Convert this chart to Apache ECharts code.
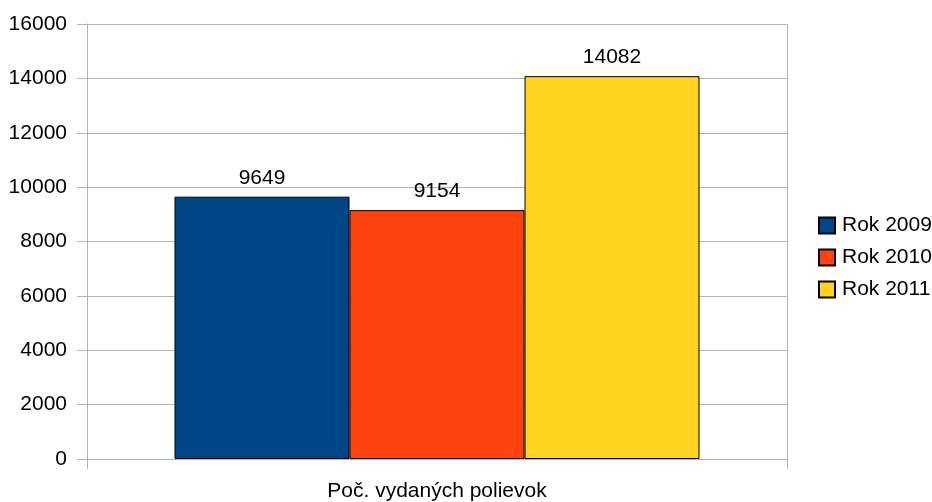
<!DOCTYPE html>
<html>
<head>
<meta charset="utf-8">
<script src="https://cdn.jsdelivr.net/npm/echarts@6/dist/echarts.min.js"></script>
<style>html,body{margin:0;padding:0;background:#fff}#c{width:932px;height:502px}</style>
</head>
<body>
<div id="c"></div>
<script>
const categories = ['Poč. vydaných polievok'];
const seriesNames = ['Rok 2009', 'Rok 2010', 'Rok 2011'];
const values2009 = [9649];
const values2010 = [9154];
const values2011 = [14082];
const colors = ['#004586', '#ff420e', '#ffd320'];

const chart = echarts.init(document.getElementById('c'), null, {renderer: 'canvas'});
const font = 'Liberation Sans, Arial, sans-serif';
const allValues = [values2009, values2010, values2011];
chart.setOption({
  animation: false,
  textStyle: {fontFamily: font},
  grid: {left: 87, right: 145, top: 24, bottom: 42, containLabel: false},
  legend: {
    orient: 'vertical', left: 818, top: 215, padding: 0,
    itemWidth: 16, itemHeight: 16, itemGap: 11,
    icon: 'rect',
    textStyle: {fontSize: 21, color: '#000', fontFamily: font, padding: [0, 0, 0, 2]},
    data: seriesNames
  },
  xAxis: {
    type: 'category', data: categories,
    axisLine: {show: true, lineStyle: {color: '#b3b3b3', width: 1}},
    axisTick: {show: true, length: 10, lineStyle: {color: '#b3b3b3'}},
    splitLine: {show: true, lineStyle: {color: '#b3b3b3', width: 1}},
    axisLabel: {fontSize: 21, color: '#000', margin: 22, fontFamily: font}
  },
  yAxis: {
    type: 'value', min: 0, max: 16000, interval: 2000,
    axisLine: {show: true, lineStyle: {color: '#b3b3b3', width: 1}},
    axisTick: {show: true, length: 10, lineStyle: {color: '#b3b3b3'}},
    splitLine: {show: true, lineStyle: {color: '#b3b3b3', width: 1}},
    axisLabel: {fontSize: 21, color: '#000', margin: 20, fontFamily: font, formatter: v => String(v)}
  },
  series: seriesNames.map((n, i) => ({
    name: n, type: 'bar', data: allValues[i],
    barGap: '0%', barCategoryGap: '25%',
    itemStyle: {color: colors[i], borderColor: '#000', borderWidth: 1},
    label: {show: true, position: 'top', distance: 8, fontSize: 21, color: '#000', fontFamily: font}
  }))
});
</script>
</body>
</html>
